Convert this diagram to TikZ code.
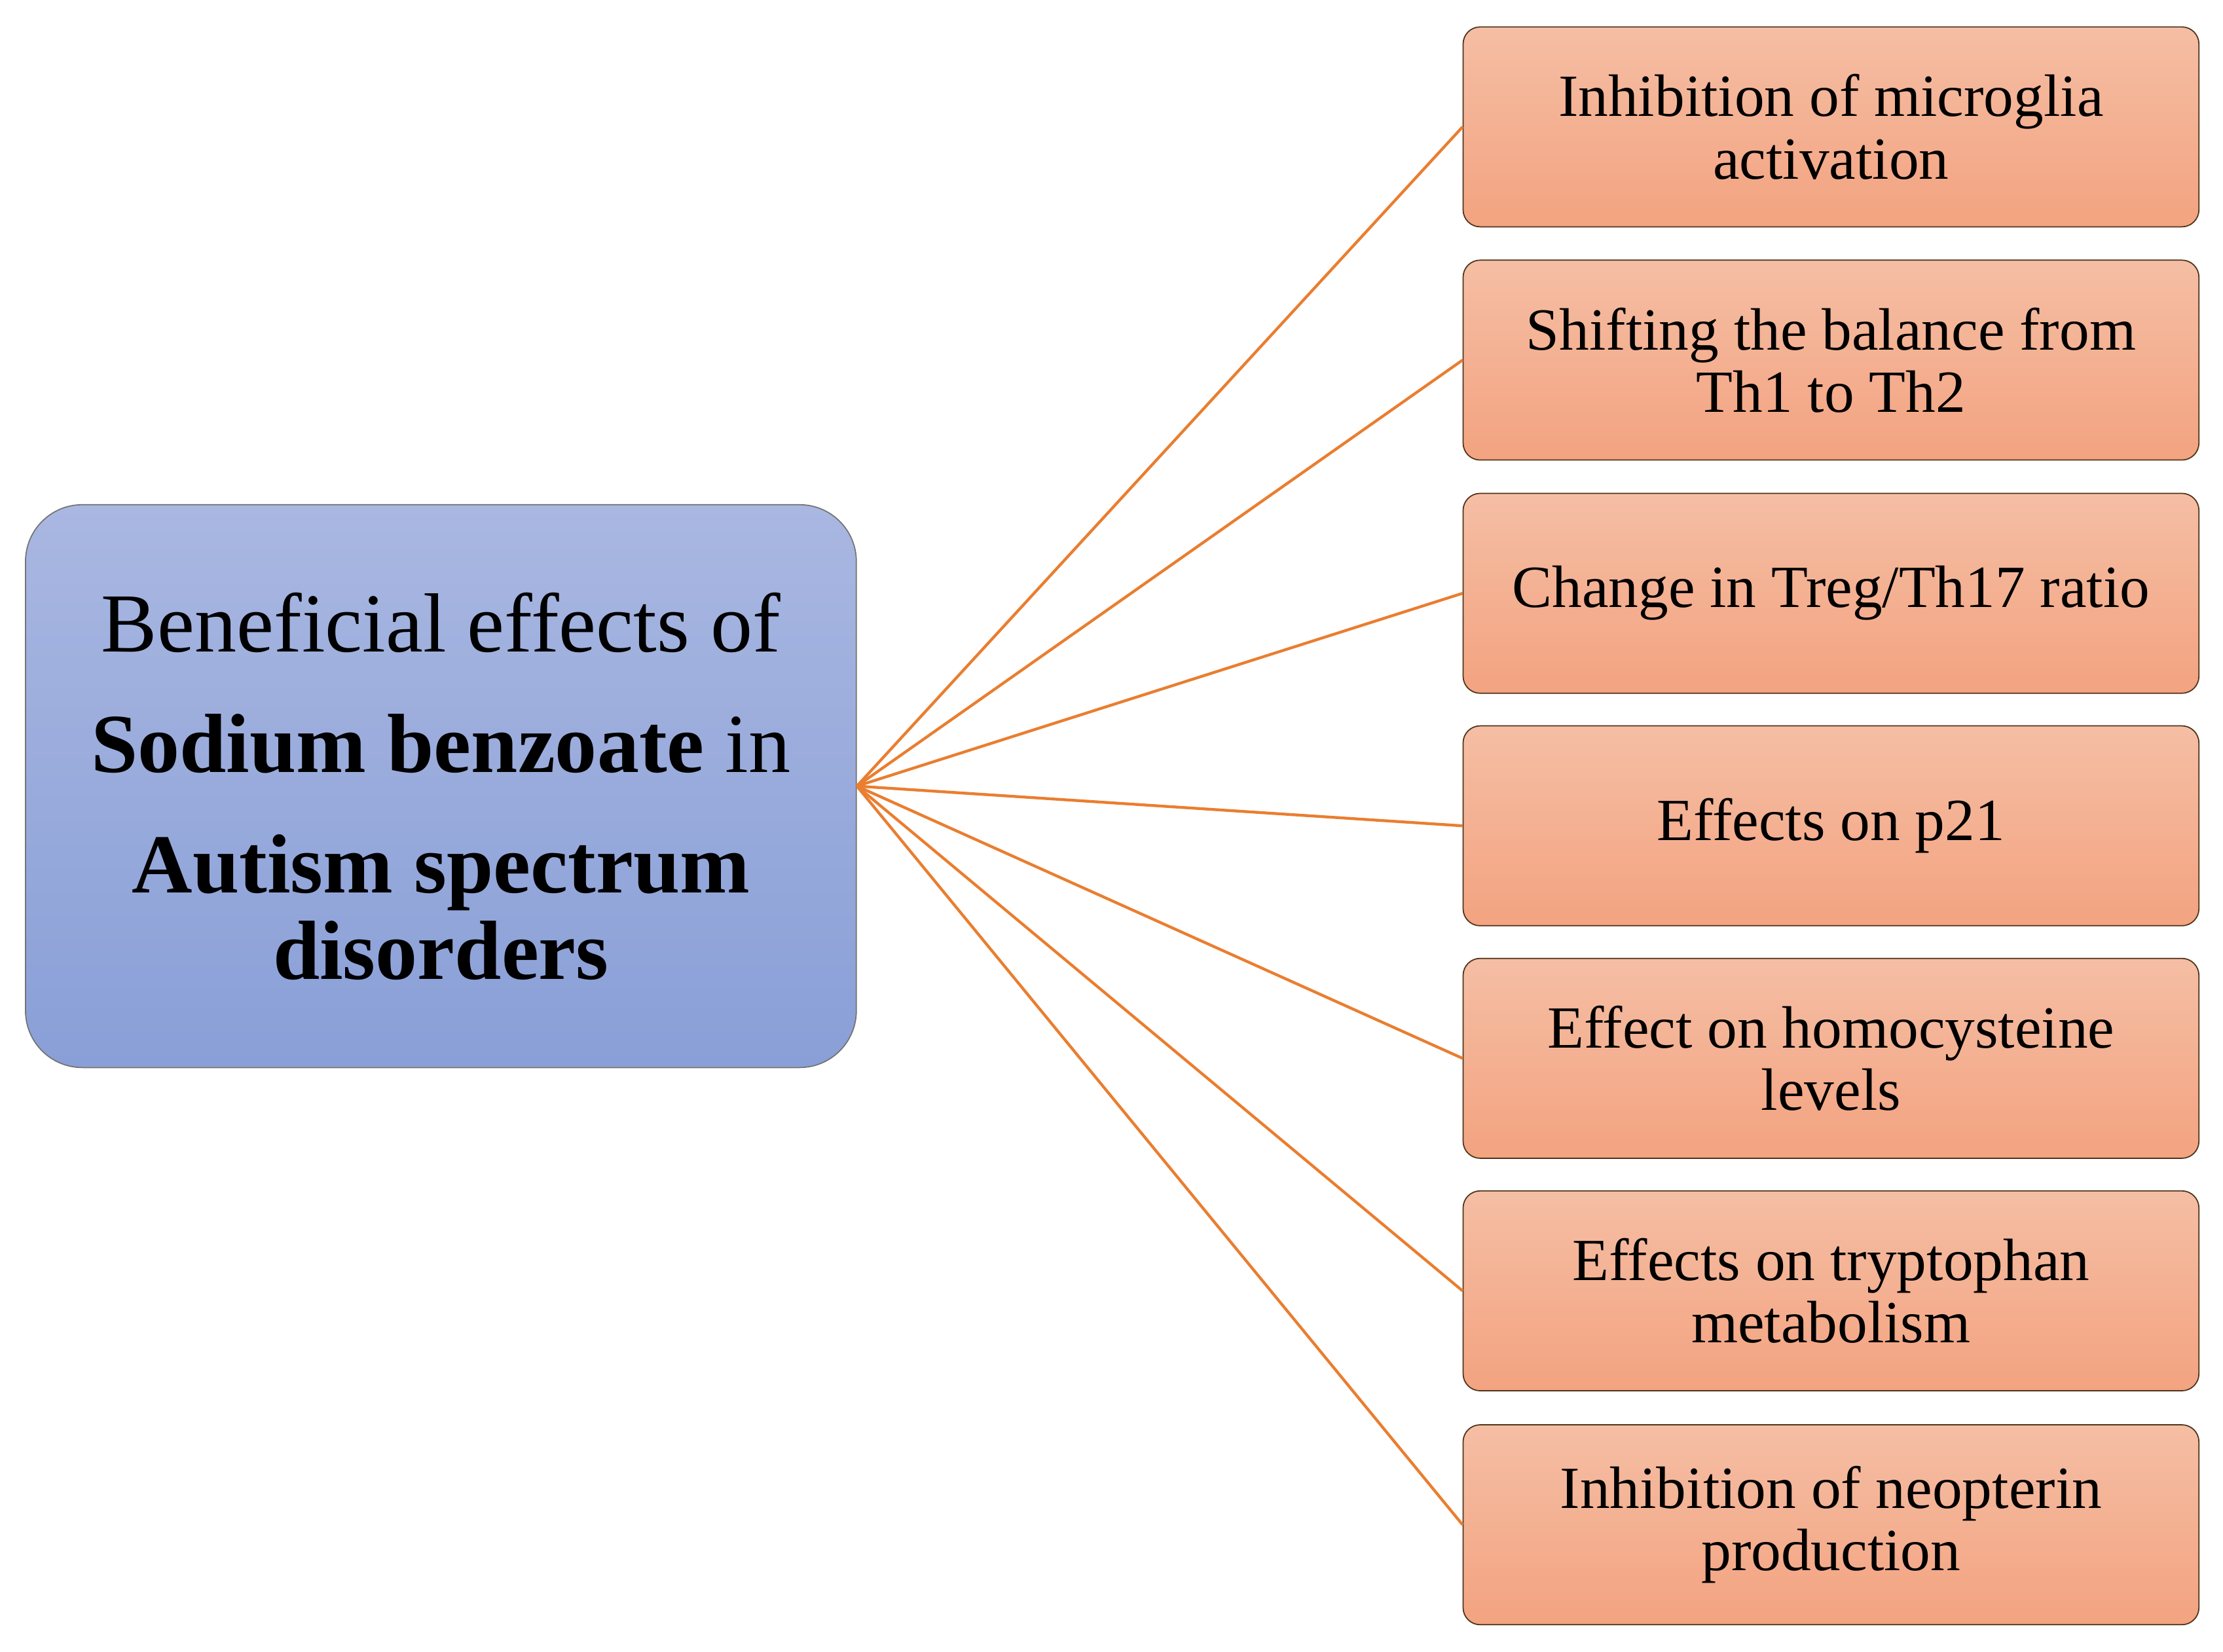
\documentclass[tikz,border=0pt]{standalone}
\usepackage{fontspec}
\setmainfont{Liberation Serif}
\definecolor{bluetop}{HTML}{A9B7E1}
\definecolor{bluebot}{HTML}{899FD7}
\definecolor{salmtop}{HTML}{F5BEA4}
\definecolor{salmbot}{HTML}{F3A380}
\definecolor{linkorange}{HTML}{E97E30}
\tikzset{
	mainbox/.style={rounded corners=20pt, draw=black!55, line width=0.4pt, top color=bluetop, bottom color=bluebot, minimum width=293pt, minimum height=198.5pt, inner sep=0pt, align=center, font=\fontsize{29.6}{30.5}\selectfont},
	effectbox/.style={rounded corners=6pt, draw=black!60!brown, line width=0.4pt, top color=salmtop, bottom color=salmbot, minimum width=259.5pt, minimum height=70.5pt, inner sep=0pt, align=center, font=\fontsize{21.1}{22}\selectfont},
	link/.style={draw=linkorange, line width=1pt}
}

\begin{document}
\begin{tikzpicture}[x=0.5pt, y=-0.5pt]
			%%%%% START %%%%%
			\useasboundingbox (0, 0) rectangle (1568, 1165);
			
			\node[mainbox] (sb) at (311, 554.5) {Beneficial effects of\\[12pt]\textbf{Sodium benzoate} in\\[12pt]\textbf{Autism spectrum}\\\textbf{disorders}};
			
			\node[effectbox] (micro) at (1291.5, 89.5) {Inhibition of microglia\\activation};
			\node[effectbox] (thshift) at (1291.5, 254) {Shifting the balance from\\Th1 to Th2};
			\node[effectbox] (treg) at (1291.5, 418.5) {Change in Treg/Th17 ratio};
			\node[effectbox] (ptwo) at (1291.5, 582.5) {Effects on p21};
			\node[effectbox] (homo) at (1291.5, 746.5) {Effect on homocysteine\\levels};
			\node[effectbox] (trypt) at (1291.5, 910.5) {Effects on tryptophan\\metabolism};
			\node[effectbox] (neop) at (1291.5, 1075.5) {Inhibition of neopterin\\production};
			
			\draw[link] (sb.east) -- (micro.west);
			\draw[link] (sb.east) -- (thshift.west);
			\draw[link] (sb.east) -- (treg.west);
			\draw[link] (sb.east) -- (ptwo.west);
			\draw[link] (sb.east) -- (homo.west);
			\draw[link] (sb.east) -- (trypt.west);
			\draw[link] (sb.east) -- (neop.west);
			
			%%%%% END %%%%%
\end{tikzpicture}
\end{document}
